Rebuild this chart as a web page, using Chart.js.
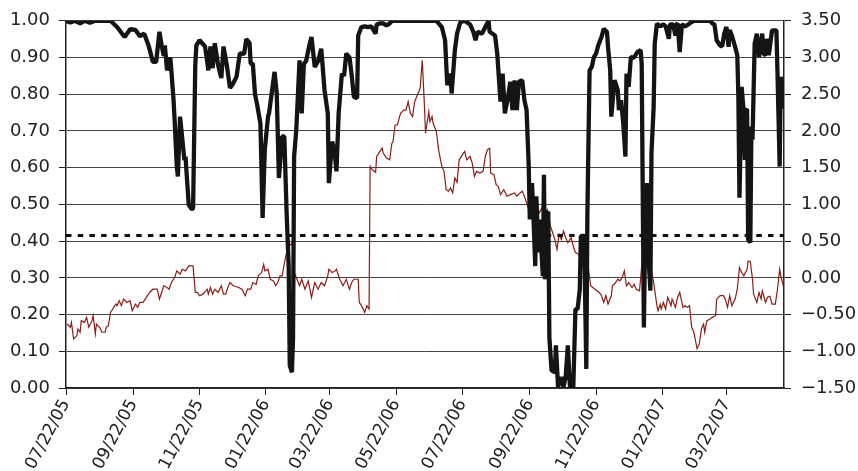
<!DOCTYPE html>
<html>
<head>
<meta charset="utf-8">
<script src="https://cdn.jsdelivr.net/npm/chart.js@4/dist/chart.umd.min.js"></script>
<style>
html,body{margin:0;padding:0;background:#fff;}
#wrap{width:858px;height:471px;}
</style>
</head>
<body>
<div id="wrap"><canvas id="c" width="858" height="471"></canvas></div>
<script>
// x axis: days since 07/22/05
const tickDays = [0, 62, 123, 184, 243, 304, 365, 427, 488, 549, 608];
const tickLabels = ['07/22/05','09/22/05','11/22/05','01/22/06','03/22/06','05/22/06','07/22/06','09/22/06','11/22/06','01/22/07','03/22/07'];

const blackDays = [
0,4,8,13,17,22,27,41,47,54,
59,64,68,72,76,80,83,86,88,90,
91,93,96,97,99,100,102,103,105,109,
110,113,116,117,119,120,123,128,130,131,
133,135,137,140,143,145,148,151,154,157,
160,164,166,169,170,172,174,176,179,181,
183,186,187,192,194,196,199,201,203,205,
206,208,209,210,212,215,217,219,221,224,
226,229,232,235,238,241,242,245,247,249,
251,254,256,258,261,263,265,268,269,272,
275,278,281,283,285,286,289,292,295,298,
300,341,346,349,351,354,355,358,360,363,
367,372,375,377,379,383,386,389,390,395,
397,400,402,404,407,409,411,413,415,417,
420,422,424,426,427,429,430,432,433,435,
436,439,440,441,443,444,445,447,450,451,
453,456,458,460,462,464,467,469,471,473,
474,477,479,480,482,484,486,488,490,493,
495,498,499,501,502,505,508,509,511,513,
515,516,518,520,523,526,529,530,531,532,
533,535,536,538,539,541,542,544,547,550,
552,555,556,559,561,562,563,565,567,570,
573,575,578,593,595,597,599,602,604,606,
608,610,611,613,616,618,619,620,622,624,
625,626,627,628,630,631,632,634,636,638,
641,642,644,645,647,650,654,655,657,658,
660,661];
const blackValues = [
1.00,0.995,1.00,0.993,1.00,0.995,1.00,1.00,0.983,0.956,
0.977,0.975,0.958,0.965,0.933,0.888,0.888,0.97,0.933,0.905,
0.933,0.865,0.90,0.865,0.784,0.73,0.603,0.576,0.739,0.621,
0.63,0.499,0.486,0.49,0.879,0.933,0.947,0.93,0.889,0.865,
0.93,0.871,0.939,0.88,0.844,0.93,0.88,0.817,0.83,0.848,
0.911,0.91,0.95,0.94,0.883,0.883,0.80,0.771,0.72,0.463,
0.649,0.739,0.75,0.861,0.802,0.572,0.685,0.685,0.486,0.332,
0.061,0.043,0.134,0.63,0.703,0.892,0.748,0.883,0.89,0.933,
0.956,0.874,0.89,0.924,0.811,0.748,0.558,0.671,0.65,0.59,
0.748,0.856,0.85,0.911,0.9,0.852,0.793,0.789,0.96,0.983,
0.985,0.983,0.985,0.975,0.965,0.99,0.993,0.993,0.987,0.993,
1.0,1.0,0.983,0.947,0.825,0.856,0.802,0.92,0.965,0.996,
1.0,0.99,0.97,0.947,0.97,0.965,0.983,1.0,0.97,0.96,
0.911,0.78,0.856,0.748,0.793,0.834,0.757,0.838,0.757,0.834,
0.838,0.784,0.757,0.603,0.459,0.558,0.495,0.332,0.522,0.369,
0.459,0.305,0.581,0.296,0.477,0.48,0.138,0.048,0.043,0.116,
0.003,0.03,0.003,0.03,0.116,0.0,0.0,0.215,0.215,0.269,
0.414,0.414,0.052,0.477,0.865,0.874,0.901,0.911,0.933,0.956,
0.978,0.97,0.929,0.865,0.739,0.838,0.811,0.757,0.784,0.721,
0.63,0.856,0.82,0.901,0.90,0.915,0.92,0.883,0.513,0.165,
0.377,0.558,0.369,0.265,0.64,0.766,0.938,0.992,0.985,0.99,
0.985,0.951,0.99,0.99,0.96,0.99,0.993,0.915,0.99,0.985,
0.99,0.995,1.0,1.0,0.993,0.99,0.947,0.933,0.93,0.965,
0.983,0.929,0.975,0.96,0.929,0.906,0.793,0.518,0.82,0.748,
0.621,0.757,0.76,0.405,0.396,0.712,0.676,0.938,0.965,0.901,
0.965,0.911,0.906,0.951,0.906,0.974,0.974,0.861,0.603,0.847,
0.82,0.761];

const redDays = [
1,4,5,7,10,11,13,14,17,19,
21,24,25,27,28,31,33,36,37,39,
41,44,46,47,49,51,53,56,59,61,
64,66,68,71,74,77,80,84,86,88,
90,93,95,97,100,102,105,107,110,113,
117,119,121,123,126,130,131,133,135,137,
140,143,145,147,149,151,154,159,162,165,
167,170,172,175,177,180,182,183,186,188,
191,193,195,197,199,202,204,206,208,209,
210,212,215,217,220,223,226,229,232,235,
238,241,242,245,248,249,252,255,258,261,
263,265,269,270,272,275,277,279,280,282,
285,286,288,291,292,295,298,300,301,303,
305,308,311,313,315,317,319,321,324,326,
328,330,331,334,335,337,338,341,343,346,
348,350,352,354,356,358,360,362,364,367,
369,372,374,376,378,381,384,386,388,390,
391,394,396,398,400,403,406,409,413,415,
418,420,422,424,426,429,431,433,436,438,
440,443,446,448,450,452,454,456,458,460,
462,465,467,469,472,474,476,478,481,483,
487,491,493,495,497,499,502,503,506,508,
510,512,514,516,518,521,523,525,528,530,
532,533,535,536,538,539,541,544,545,547,
548,550,552,554,557,558,561,563,565,568,
570,572,574,576,578,581,583,585,587,588,
590,593,595,598,599,602,605,607,609,611,
613,616,618,620,622,624,627,628,630,632,
633,636,638,640,641,644,646,648,650,653,
655,657,658,660,661];
const redValues = [
-0.629,-0.673,-0.606,-0.832,-0.786,-0.697,-0.741,-0.583,-0.606,-0.538,
-0.673,-0.583,-0.515,-0.764,-0.629,-0.673,-0.741,-0.741,-0.673,-0.650,
-0.470,-0.402,-0.358,-0.379,-0.312,-0.379,-0.290,-0.335,-0.312,-0.447,
-0.358,-0.402,-0.335,-0.335,-0.267,-0.199,-0.155,-0.155,-0.290,-0.199,
-0.108,-0.131,-0.155,-0.064,0.004,0.095,0.049,0.117,0.095,0.163,
0.163,-0.199,-0.199,-0.244,-0.222,-0.155,-0.222,-0.131,-0.222,-0.155,
-0.20,-0.108,-0.222,-0.222,-0.131,-0.064,-0.108,-0.131,-0.155,-0.244,
-0.155,-0.155,-0.064,-0.09,0.027,0.072,0.184,0.095,0.117,-0.019,
-0.041,-0.108,-0.064,0.027,0.027,0.275,0.388,0.434,0.478,0.434,
0.072,0.004,-0.108,-0.019,-0.155,-0.041,-0.267,-0.064,-0.155,-0.064,
-0.108,0.027,0.117,0.072,0.095,0.117,-0.019,-0.108,-0.019,-0.155,
-0.064,-0.019,-0.019,-0.335,-0.379,-0.470,-0.379,-0.425,1.518,1.472,
1.436,1.653,1.698,1.766,1.698,1.630,1.607,1.833,1.85,2.081,
2.081,2.240,2.285,2.285,2.398,2.240,2.195,2.398,2.511,2.579,
2.962,2.331,1.969,2.263,2.127,2.195,2.104,1.992,1.743,1.518,
1.450,1.201,1.18,1.224,1.156,1.359,1.30,1.607,1.653,1.721,
1.607,1.653,1.562,1.382,1.450,1.427,1.450,1.653,1.743,1.766,
1.427,1.404,1.268,1.247,1.133,1.201,1.111,1.133,1.156,1.111,
1.156,1.179,1.111,1.020,0.930,1.020,0.885,0.953,0.885,0.953,
0.840,0.93,0.705,0.614,0.523,0.388,0.591,0.523,0.637,0.546,
0.478,0.546,0.434,0.343,0.32,0.230,0.298,0.523,0.117,-0.108,
-0.155,-0.199,-0.244,-0.335,-0.244,-0.358,-0.244,-0.108,-0.064,-0.019,
-0.041,0.004,0.095,-0.108,-0.064,-0.131,-0.087,-0.155,-0.176,0.163,
0.366,0.230,0.298,0.163,0.275,0.095,-0.064,-0.379,-0.447,-0.358,
-0.425,-0.335,-0.425,-0.267,-0.379,-0.290,-0.402,-0.267,-0.199,-0.402,
-0.379,-0.402,-0.379,-0.673,-0.741,-0.967,-0.900,-0.697,-0.629,-0.741,
-0.583,-0.561,-0.538,-0.515,-0.290,-0.244,-0.24,-0.290,-0.402,-0.244,
-0.379,-0.290,-0.155,0.140,0.072,0.027,0.117,0.230,0.22,-0.019,
-0.222,-0.335,-0.199,-0.290,-0.176,-0.335,-0.26,-0.25,-0.358,-0.358,
-0.155,0.117,0.027,-0.087,-0.019];

const threshold = 0.415;
const lastDay = 661;

const blackData = blackDays.map((d, i) => ({x: d, y: blackValues[i]}));
const redData = redDays.map((d, i) => ({x: d, y: redValues[i]}));
const threshData = [{x: 0, y: threshold}, {x: lastDay, y: threshold}];

const FONT = {family: '"DejaVu Sans", sans-serif', size: 18};
const XFONT = {family: '"DejaVu Sans", sans-serif', size: 17};
const fmtRight = v => (v < 0 ? '\u2212' + Math.abs(v).toFixed(2) : v.toFixed(2));

new Chart(document.getElementById('c'), {
  type: 'line',
  data: {
    datasets: [
      {data: blackData, yAxisID: 'y', borderColor: '#141414', borderWidth: 4.3, pointRadius: 0,
       borderJoinStyle: 'bevel', tension: 0, order: 0},
      {data: threshData, yAxisID: 'y', borderColor: '#111', borderWidth: 3, pointRadius: 0,
       borderDash: [5.5, 6.2], order: 1},
      {data: redData, yAxisID: 'y1', borderColor: '#8c1d14', borderWidth: 1.2, pointRadius: 0,
       tension: 0, order: 2}
    ]
  },
  options: {
    responsive: false,
    devicePixelRatio: 1,
    animation: false,
    layout: {padding: {top: 19, left: 0, right: 0, bottom: 0}},
    plugins: {legend: {display: false}, tooltip: {enabled: false}},
    scales: {
      x: {
        type: 'linear', min: 0, max: lastDay,
        afterBuildTicks: s => { s.ticks = tickDays.map(v => ({value: v})); },
        afterFit: s => { s.height = 83; },
        ticks: {
          autoSkip: false, minRotation: 62, maxRotation: 62, padding: 1,
          color: '#222', font: XFONT,
          callback: v => tickLabels[tickDays.indexOf(v)]
        },
        grid: {drawOnChartArea: false, drawTicks: true, tickLength: 7, tickColor: '#222', tickWidth: 1},
        border: {display: true, color: '#222', width: 1.5}
      },
      y: {
        position: 'left', min: 0, max: 1,
        afterFit: s => { s.width = 66; },
        ticks: {stepSize: 0.1, padding: 9, color: '#222', font: FONT, callback: v => v.toFixed(2)},
        grid: {color: '#444', lineWidth: 1, drawTicks: true, tickLength: 7, tickColor: '#222'},
        border: {display: true, color: '#222', width: 1.5}
      },
      y1: {
        position: 'right', min: -1.5, max: 3.5,
        afterFit: s => { s.width = 74; },
        ticks: {stepSize: 0.5, padding: 10, color: '#222', font: FONT, callback: v => fmtRight(v)},
        grid: {drawOnChartArea: false, drawTicks: true, tickLength: 7, tickColor: '#222'},
        border: {display: true, color: '#222', width: 1.5}
      }
    }
  }
});
</script>
</body>
</html>
